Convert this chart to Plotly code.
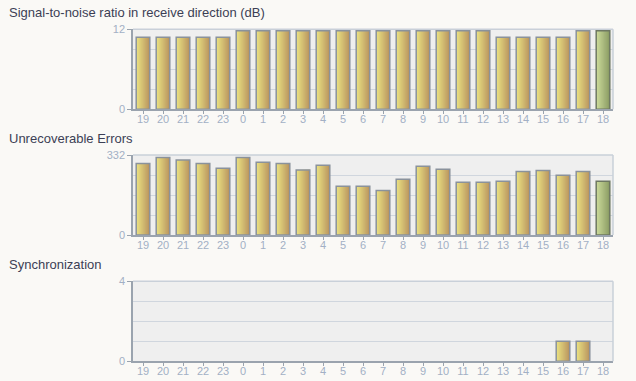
import plotly.graph_objects as go

hours = ["19", "20", "21", "22", "23", "0", "1", "2", "3", "4", "5", "6",
         "7", "8", "9", "10", "11", "12", "13", "14", "15", "16", "17", "18"]
snr = [10.8, 10.8, 10.8, 10.8, 10.8, 11.8, 11.8, 11.8, 11.8, 11.8, 11.8, 11.8,
       11.8, 11.8, 11.8, 11.8, 11.8, 11.8, 10.8, 10.8, 10.8, 10.8, 11.8, 11.8]
errors = [297, 322, 311, 297, 277, 322, 302, 297, 270, 289, 202, 202,
          185, 231, 285, 273, 219, 219, 223, 264, 268, 248, 264, 223]
sync = [0, 0, 0, 0, 0, 0, 0, 0, 0, 0, 0, 0,
        0, 0, 0, 0, 0, 0, 0, 0, 0, 1, 1, 0]
titles = ["Signal-to-noise ratio in receive direction (dB)",
          "Unrecoverable Errors", "Synchronization"]
ymax = [12, 332, 4]
series = [snr, errors, sync]

W, H = 636, 381
PAPER = "#faf9f6"
PLOT = "#efefef"
GRID = "#d0d6de"
AXIS = "#9aa3ae"
BORDER = "#c9d0d9"
TICKC = "#a2b0c5"
TITLEC = "#3c3f55"

# pixel layout of each panel (top, bottom)
panels_px = [(29.3, 109.3), (155, 235), (281.3, 361.3)]
x0px, x1px = 133, 613

N = 12
BW = 0.68
y_left, y_right = (236, 227, 130), (184, 148, 96)
g_left, g_right = (205, 220, 155), (138, 155, 100)


def mix(a, b, t):
    return "rgb(%d,%d,%d)" % tuple(round(a[k] + (b[k] - a[k]) * t) for k in range(3))


fig = go.Figure()
nh = len(hours)
for p, vals in enumerate(series):
    xa = "x" if p == 0 else "x%d" % (p + 1)
    ya = "y" if p == 0 else "y%d" % (p + 1)
    yv = [v if v else None for v in vals]
    for i in range(N):
        t = (i + 0.5) / N
        cols = [mix(g_left, g_right, t) if j == nh - 1 else mix(y_left, y_right, t)
                for j in range(nh)]
        fig.add_trace(go.Bar(
            x=hours, y=yv, xaxis=xa, yaxis=ya,
            width=BW - i * BW / N, offset=-BW / 2 + i * BW / N,
            marker=dict(color=cols, line=dict(width=0)),
            hoverinfo="skip", showlegend=False))
    lcols = ["#6e7862" if j == nh - 1 else "#8a929c" for j in range(nh)]
    fig.add_trace(go.Bar(
        x=hours, y=yv, xaxis=xa, yaxis=ya, width=BW, offset=-BW / 2,
        marker=dict(color="rgba(0,0,0,0)", line=dict(width=1.5, color=lcols)),
        showlegend=False))

layout = dict(
    template="none",
    width=W, height=H, margin=dict(l=0, r=0, t=0, b=0, pad=0), autosize=False,
    paper_bgcolor=PAPER, plot_bgcolor=PLOT, barmode="overlay",
    font=dict(family="Liberation Sans, Arial, sans-serif", size=11, color=TICKC),
)
shapes = []
annotations = []
for p in range(3):
    top, bot = panels_px[p]
    dom_y = [(H - bot) / H, (H - top) / H]
    dom_x = [x0px / W, x1px / W]
    sx = "" if p == 0 else str(p + 1)
    m = ymax[p]
    layout["xaxis" + sx] = dict(
        domain=dom_x, anchor="y" + sx, type="category", automargin=False,
        categoryorder="array", categoryarray=hours,
        showline=True, linecolor=AXIS, linewidth=1.5,
        ticks="outside", ticklen=3, tickcolor=AXIS, tickwidth=1,
        ticklabelstandoff=-4,
        showgrid=False, zeroline=False,
        tickfont=dict(size=11, color=TICKC), fixedrange=True)
    layout["yaxis" + sx] = dict(
        domain=dom_y, anchor="x" + sx, range=[0, m], automargin=False,
        tickmode="array", tickvals=[0, m], ticktext=[str(0), str(m)],
        showline=True, linecolor=AXIS, linewidth=1.5,
        ticks="outside", ticklen=4, tickcolor=AXIS, tickwidth=1,
        showgrid=False, zeroline=False,
        minor=dict(tickmode="array", tickvals=[m * k / 4 for k in (1, 2, 3)],
                   showgrid=True, gridcolor=GRID, gridwidth=1, ticks=""),
        tickfont=dict(size=11, color=TICKC), fixedrange=True)
    xr = "x" + sx + " domain"
    yr = "y" + sx + " domain"
    shapes.append(dict(type="line", xref=xr, yref=yr, x0=0, x1=1, y0=1, y1=1,
                       line=dict(color=BORDER, width=1.5)))
    shapes.append(dict(type="line", xref=xr, yref=yr, x0=1, x1=1, y0=0, y1=1,
                       line=dict(color=BORDER, width=1.5)))
    annotations.append(dict(
        text=titles[p], xref="paper", yref="paper", x=7 / W,
        y=(H - (top - 17)) / H, xanchor="left", yanchor="middle",
        showarrow=False,
        font=dict(family="Liberation Sans, Arial, sans-serif", size=13, color=TITLEC)))

layout["shapes"] = shapes
layout["annotations"] = annotations
fig.update_layout(**layout)
fig.write_html("out.html", config={"displayModeBar": False},
               post_script="document.body.style.margin='0px';"
                           "document.body.style.background='#faf9f6';")
